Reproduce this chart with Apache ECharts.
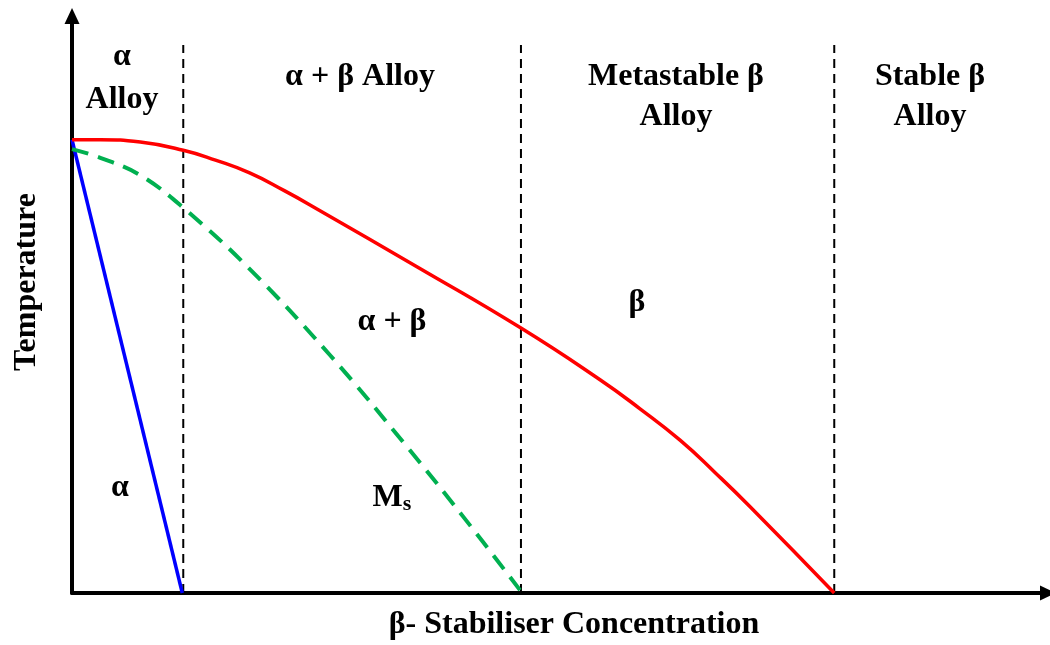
<!DOCTYPE html>
<html>
<head>
<meta charset="utf-8">
<script src="https://cdn.jsdelivr.net/npm/echarts@6/dist/echarts.min.js"></script>
<style>
  html, body { margin: 0; padding: 0; background: #fff; }
  #chart { width: 1050px; height: 645px; }
</style>
</head>
<body>
<div id="chart"></div>
<script>
// concentration 0-100, temperature 0-~100 (arbitrary units)
const betaTransus = [
  [0, 78.0], [2.9, 78.0], [7.0, 77.6], [11.4, 76.2], [14.7, 74.5], [18.2, 72.3],
  [21.8, 69.2], [25.1, 66.1], [35.6, 55.9], [46.0, 45.6], [54.1, 36.7],
  [58.2, 31.7], [62.3, 26.3], [65.9, 20.7], [69.5, 14.8], [78.1, 0]
]
const msLine = [
  [0, 76.4], [2.9, 74.9], [7.0, 71.9], [11.4, 66.3], [18.0, 56.1],
  [26.4, 41.0], [34.6, 24.6], [40.1, 13.1], [45.9, 0.5]
]
const alphaLine = [[0, 78.0], [11.3, 0]]
const boundaries = [11.4, 46.0, 78.1]
const boundaryTop = 94.3

const chart = echarts.init(document.getElementById("chart"))

const font = "Liberation Serif, Times New Roman, serif"
const txt = (x, y, text, extra) => ({
  type: "text",
  x: x,
  y: y,
  style: Object.assign({
    text: text,
    fill: "#000",
    font: "bold 32px " + font,
    align: "center",
    verticalAlign: "middle"
  }, extra || {})
})

const boundarySeries = boundaries.map((b) => ({
  type: "line",
  data: [[b, 0], [b, boundaryTop]],
  showSymbol: false,
  silent: true,
  lineStyle: { color: "#000", width: 2, type: [9, 6] },
  z: 1
}))

const axisLine = {
  show: true,
  symbol: ["none", "triangle"],
  symbolSize: [15, 16],
  lineStyle: { color: "#000", width: 4 }
}

const option = {
  backgroundColor: "#fff",
  animation: false,
  grid: { left: 72, right: 2, top: 16, bottom: 52 },
  xAxis: {
    type: "value",
    min: 0,
    max: 100,
    splitLine: { show: false },
    axisTick: { show: false },
    axisLabel: { show: false },
    axisLine: axisLine
  },
  yAxis: {
    type: "value",
    min: 0,
    max: 99.3,
    splitLine: { show: false },
    axisTick: { show: false },
    axisLabel: { show: false },
    axisLine: axisLine
  },
  series: [
    ...boundarySeries,
    {
      type: "line",
      data: alphaLine,
      showSymbol: false,
      lineStyle: { color: "#0000ff", width: 3.5 },
      z: 3
    },
    {
      type: "line",
      data: msLine,
      smooth: 0.4,
      showSymbol: false,
      lineStyle: { color: "#00b050", width: 4, type: [17, 10] },
      z: 3
    },
    {
      type: "line",
      data: betaTransus,
      smooth: 0.5,
      showSymbol: false,
      lineStyle: { color: "#ff0000", width: 3.5 },
      z: 4
    }
  ],
  graphic: [
    txt(122, 57, "α"),
    txt(122, 100, "Alloy"),
    txt(360, 77, "α + β Alloy"),
    txt(676, 77, "Metastable β"),
    txt(676, 117, "Alloy"),
    txt(930, 77, "Stable β"),
    txt(930, 117, "Alloy"),
    txt(637, 303, "β"),
    txt(392, 322, "α + β"),
    txt(120, 488, "α"),
    {
      type: "text",
      x: 392,
      y: 498,
      style: {
        text: "{m|M}{s|s}",
        align: "center",
        verticalAlign: "middle",
        rich: {
          m: { font: "bold 32px " + font, fill: "#000" },
          s: { font: "bold 22px " + font, fill: "#000", padding: [12, 0, 0, 0] }
        }
      }
    },
    txt(574, 625, "β- Stabiliser Concentration"),
    Object.assign(txt(0, 0, "Temperature"), { x: 27, y: 282, rotation: Math.PI / 2 })
  ]
}

chart.setOption(option)
</script>
</body>
</html>
